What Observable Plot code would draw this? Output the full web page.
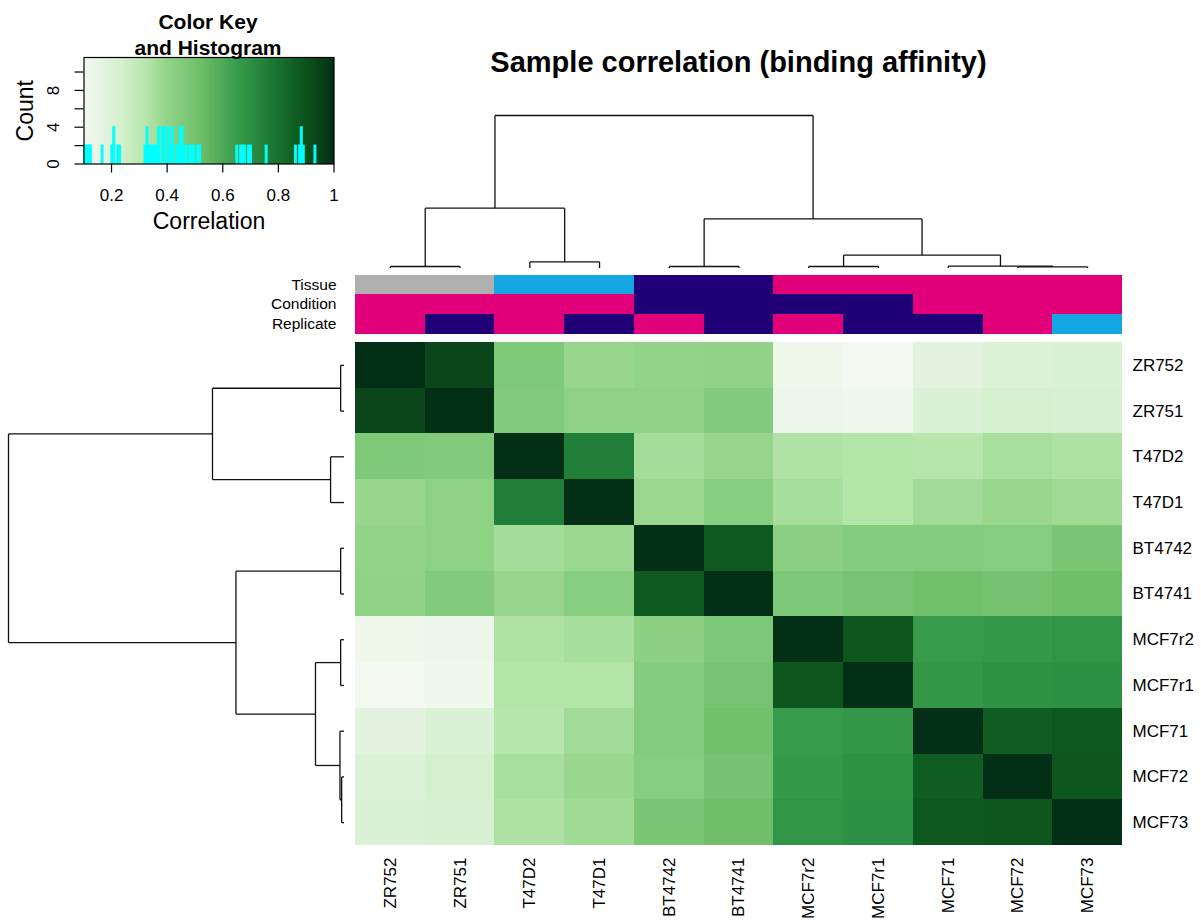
<!DOCTYPE html>
<html>
<head>
<meta charset="utf-8">
<script src="https://cdn.jsdelivr.net/npm/d3@7"></script>
<script src="https://cdn.jsdelivr.net/npm/@observablehq/plot@0.6"></script>
<style>
  html, body { margin: 0; padding: 0; background: #fff; }
  #chart { position: relative; width: 1201px; height: 921px; overflow: hidden;
           font-family: "Liberation Sans", Arial, Helvetica, sans-serif; }
  #chart svg { position: absolute; left: 0; top: 0; }
  .title { position: absolute; font-weight: bold; text-align: center; white-space: nowrap; color: #000; }
  #main-title { left: 355px; width: 767px; top: 46px; font-size: 29px; line-height: 33px; }
  #key-title { left: 58px; width: 300px; top: 9px; font-size: 21px; line-height: 26px; z-index: 2; }
</style>
</head>
<body>
<div id="chart">
  <div class="title" id="main-title">Sample correlation (binding affinity)</div>
  <div class="title" id="key-title">Color Key<br>and Histogram</div>
</div>
<script>
// ---- data -------------------------------------------------------------
const samples = ["ZR752", "ZR751", "T47D2", "T47D1", "BT4742", "BT4741",
                 "MCF7r2", "MCF7r1", "MCF71", "MCF72", "MCF73"];
const tissue = ["ZR75", "ZR75", "T47D", "T47D", "BT474", "BT474",
                "MCF7", "MCF7", "MCF7", "MCF7", "MCF7"];
const condition = ["Responsive", "Responsive", "Responsive", "Responsive", "Resistant", "Resistant",
                   "Resistant", "Resistant", "Responsive", "Responsive", "Responsive"];
const replicate = ["2", "1", "2", "1", "2", "1", "2", "1", "1", "2", "3"];

// correlation of binding affinity, rows/columns in the order of `samples`
const correlation = [
  [1.000, 0.936, 0.462, 0.392, 0.405, 0.408, 0.120, 0.101, 0.170, 0.204, 0.209],
  [0.936, 1.000, 0.455, 0.416, 0.420, 0.456, 0.127, 0.113, 0.207, 0.232, 0.224],
  [0.462, 0.455, 1.000, 0.757, 0.364, 0.394, 0.338, 0.330, 0.322, 0.352, 0.342],
  [0.392, 0.416, 0.757, 1.000, 0.384, 0.436, 0.356, 0.331, 0.368, 0.387, 0.371],
  [0.405, 0.420, 0.364, 0.384, 1.000, 0.879, 0.422, 0.446, 0.449, 0.440, 0.481],
  [0.408, 0.456, 0.394, 0.436, 0.879, 1.000, 0.472, 0.492, 0.512, 0.497, 0.521],
  [0.120, 0.127, 0.338, 0.356, 0.422, 0.472, 1.000, 0.885, 0.655, 0.665, 0.680],
  [0.101, 0.113, 0.330, 0.331, 0.446, 0.492, 0.885, 1.000, 0.672, 0.692, 0.698],
  [0.170, 0.207, 0.322, 0.368, 0.449, 0.512, 0.655, 0.672, 1.000, 0.866, 0.881],
  [0.204, 0.232, 0.352, 0.387, 0.440, 0.497, 0.665, 0.692, 0.866, 1.000, 0.889],
  [0.209, 0.224, 0.342, 0.371, 0.481, 0.521, 0.680, 0.698, 0.881, 0.889, 1.000]
];

// hierarchical clustering (hclust convention: negative = leaf, positive = earlier merge)
const mergeA = [-1, -3, -5, -7, -10, -9, 4, 3, 1, 9];
const mergeB = [-2, -4, -6, -8, -11, 5, 6, 7, 2, 8];
const mergeHeight = [0.010, 0.040, 0.010, 0.010, 0.007, 0.012, 0.085, 0.322, 0.392, 1.000];

// colour key / histogram axis ticks
const keyTicks = [0.2, 0.4, 0.6, 0.8, 1];
const countTicks = [0, 2, 4, 6, 8, 10];
const countLabels = [0, 4, 8];

// ---- styling ------------------------------------------------------------
const W = 1201, H = 921;
const FONT = "'Liberation Sans', Arial, Helvetica, sans-serif";
const baseStyle = {background: "none", fontFamily: FONT, fontSize: "16px", color: "#000", overflow: "visible"};
const greenStops = [0.10, 0.17, 0.23, 0.32, 0.40, 0.46, 0.52, 0.66, 0.70, 0.76, 0.87, 0.94, 1.00];
const greenRamp = ["#f3f8f0", "#e4f3e0", "#d6f0cf", "#b8e6ad", "#93d488", "#80ca7a", "#6ebe6a",
                   "#369a4a", "#2e8f44", "#1f7d37", "#0e5c20", "#0a4519", "#032f16"];
const greens = {type: "linear", domain: greenStops, range: greenRamp, interpolate: "rgb"};
const MAGENTA = "#e2007a", NAVY = "#1f0077", CYAN = "#14a5e3", GREY = "#afafaf";

// heatmap panel frame (shared by the matrix, side colours and dendrograms)
const PANEL = {left: 355, right: 1122, top: 342, bottom: 845};

const chart = document.getElementById("chart");
const add = (svg) => chart.appendChild(svg);

// ---- correlation matrix -------------------------------------------------
const cells = samples.flatMap((r, i) => samples.map((c, j) => ({row: r, col: c, value: correlation[i][j]})));

add(Plot.plot({
  width: W, height: H,
  marginLeft: PANEL.left, marginRight: W - PANEL.right,
  marginTop: PANEL.top, marginBottom: H - PANEL.bottom,
  style: baseStyle,
  x: {domain: samples, padding: 0, round: false},
  y: {domain: samples, padding: 0, round: false},
  color: greens,
  marks: [
    Plot.cell(cells, {x: "col", y: "row", fill: "value", inset: 0, shapeRendering: "crispEdges"}),
    Plot.axisX({anchor: "bottom", tickSize: 0, tickPadding: 12, tickRotate: -90, label: null,
                fontSize: 17, fontFamily: FONT}),
    Plot.axisY({anchor: "right", tickSize: 0, tickPadding: 10, label: null,
                fontSize: 17, fontFamily: FONT})
  ]
}));

// ---- column side colours ------------------------------------------------
const tracks = ["Tissue", "Condition", "Replicate"];
const sideColours = samples.flatMap((s, i) => [
  {sample: s, track: "Tissue", level: tissue[i]},
  {sample: s, track: "Condition", level: condition[i]},
  {sample: s, track: "Replicate", level: replicate[i]}
]);

add(Plot.plot({
  width: W, height: H,
  marginLeft: PANEL.left, marginRight: W - PANEL.right,
  marginTop: 274.5, marginBottom: H - 333.5,
  style: baseStyle,
  x: {domain: samples, padding: 0, round: false, axis: null},
  y: {domain: tracks, padding: 0, round: false},
  color: {type: "ordinal",
          domain: ["ZR75", "T47D", "BT474", "MCF7", "Responsive", "Resistant", "1", "2", "3"],
          range: [GREY, CYAN, NAVY, MAGENTA, MAGENTA, NAVY, NAVY, MAGENTA, CYAN]},
  marks: [
    Plot.cell(sideColours, {x: "sample", y: "track", fill: "level", inset: 0, shapeRendering: "crispEdges"}),
    Plot.axisY({anchor: "left", tickSize: 0, tickPadding: 19, label: null, fontSize: 15.5, fontFamily: FONT})
  ]
}));

// ---- dendrograms --------------------------------------------------------
function dendrogramSegments() {
  const pos = [], ht = [], segs = [];
  const node = (id) => id < 0 ? {p: -id - 0.5, h: 0} : {p: pos[id - 1], h: ht[id - 1]};
  mergeA.forEach((a, k) => {
    const A = node(a), B = node(mergeB[k]), h = mergeHeight[k];
    segs.push({p1: A.p, h1: A.h, p2: A.p, h2: h});
    segs.push({p1: A.p, h1: h, p2: B.p, h2: h});
    segs.push({p1: B.p, h1: h, p2: B.p, h2: B.h});
    pos.push((A.p + B.p) / 2);
    ht.push(h);
  });
  return segs;
}
const segments = dendrogramSegments();
const topHeight = d3.max(mergeHeight);

// column dendrogram (above the side colours)
add(Plot.plot({
  width: W, height: H,
  marginLeft: PANEL.left, marginRight: W - PANEL.right,
  marginTop: 115, marginBottom: H - 267.5,
  style: baseStyle,
  x: {domain: [0, samples.length], axis: null},
  y: {domain: [0, topHeight], axis: null},
  marks: [
    Plot.link(segments, {x1: "p1", y1: "h1", x2: "p2", y2: "h2", stroke: "#111", strokeWidth: 1.3})
  ]
}));

// row dendrogram (left of the matrix)
add(Plot.plot({
  width: W, height: H,
  marginLeft: 8, marginRight: W - 343.5,
  marginTop: PANEL.top, marginBottom: H - PANEL.bottom,
  style: baseStyle,
  x: {domain: [0, topHeight], reverse: true, axis: null},
  y: {domain: [0, samples.length], reverse: true, axis: null},
  marks: [
    Plot.link(segments, {x1: "h1", y1: "p1", x2: "h2", y2: "p2", stroke: "#111", strokeWidth: 1.3})
  ]
}));

// ---- colour key and histogram ------------------------------------------
const values = correlation.flat();
const [vmin, vmax] = d3.extent(values);
const nBins = 128;
const breaks = d3.range(nBins + 1).map(i => vmin + (vmax - vmin) * i / nBins);
const keyBins = d3.bin().domain([vmin, vmax]).thresholds(breaks.slice(1, -1))(values);
const maxCount = d3.max(keyBins, b => b.length);
const keyStrip = breaks.slice(0, -1).map((b, i) => ({x1: b, x2: breaks[i + 1], v: (b + breaks[i + 1]) / 2}));

add(Plot.plot({
  width: W, height: H,
  marginLeft: 83.5, marginRight: W - 333.5,
  marginTop: 57, marginBottom: H - 163.5,
  style: baseStyle,
  x: {domain: [vmin, vmax]},
  y: {domain: [0, maxCount / 0.95]},
  color: greens,
  marks: [
    Plot.rect(keyStrip, {x1: "x1", x2: "x2", fill: "v", shapeRendering: "crispEdges"}),
    Plot.rectY(values, Plot.binX({y: "count"},
      {x: d => d, thresholds: breaks, domain: [vmin, vmax], inset: 0,
       fill: "#00ffff", stroke: "#00ffff", strokeWidth: 1})),
    Plot.frame({stroke: "#000", strokeWidth: 1.2}),
    Plot.axisX({ticks: keyTicks, tickSize: 9, tickPadding: 16, tickFormat: d3.format("~g"),
                label: null, fontSize: 17, fontFamily: FONT, strokeWidth: 1.2}),
    Plot.axisY({ticks: countTicks, tickSize: 9, tickFormat: () => "", label: null, strokeWidth: 1.2}),
    Plot.text(countLabels, {y: d => d, text: d => String(d), frameAnchor: "left", dx: -30,
                            textAnchor: "middle", lineAnchor: "middle",
                            rotate: -90, fontSize: 17, fontFamily: FONT, fill: "#000"}),
    Plot.text(["Count"], {text: d => d, frameAnchor: "left", dx: -58, rotate: -90,
                          textAnchor: "middle", lineAnchor: "middle",
                          fontSize: 23, fontFamily: FONT, fill: "#000"}),
    Plot.text(["Correlation"], {text: d => d, frameAnchor: "bottom", dy: 58,
                                textAnchor: "middle", lineAnchor: "middle",
                                fontSize: 23, fontFamily: FONT, fill: "#000"})
  ]
}));
</script>
</body>
</html>
